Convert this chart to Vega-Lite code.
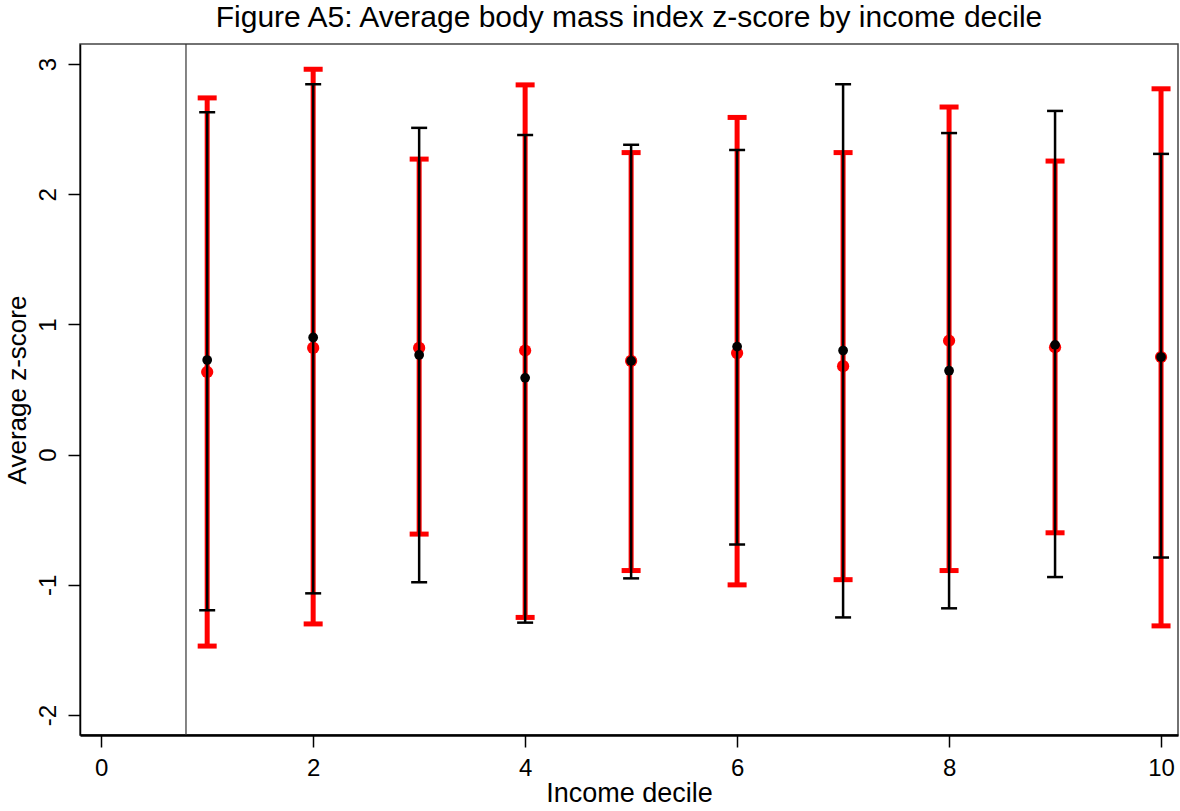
{
  "$schema": "https://vega.github.io/schema/vega-lite/v6.json",
  "width": 1098,
  "height": 691,
  "autosize": {"type": "none"},
  "padding": {"left": 80, "top": 44, "right": 2, "bottom": 76},
  "background": "white",
  "config": {
    "view": {"stroke": "#444", "strokeWidth": 1.5},
    "font": "Liberation Sans"
  },
  "title": {
    "text": "Figure A5: Average body mass index z-score by income decile",
    "font": "Liberation Sans",
    "fontSize": 30,
    "fontWeight": "normal",
    "color": "#000",
    "anchor": "middle",
    "offset": 10
  },
  "datasets": {
    "ci": [
      {"decile": 1, "group": "red", "mean": 0.635, "lo": -1.47, "hi": 2.74},
      {"decile": 1, "group": "black", "mean": 0.727, "lo": -1.195, "hi": 2.63},
      {"decile": 2, "group": "red", "mean": 0.82, "lo": -1.3, "hi": 2.96},
      {"decile": 2, "group": "black", "mean": 0.9, "lo": -1.065, "hi": 2.845},
      {"decile": 3, "group": "red", "mean": 0.82, "lo": -0.61, "hi": 2.27},
      {"decile": 3, "group": "black", "mean": 0.766, "lo": -0.98, "hi": 2.51},
      {"decile": 4, "group": "red", "mean": 0.8, "lo": -1.25, "hi": 2.84},
      {"decile": 4, "group": "black", "mean": 0.59, "lo": -1.29, "hi": 2.455},
      {"decile": 5, "group": "red", "mean": 0.72, "lo": -0.89, "hi": 2.32},
      {"decile": 5, "group": "black", "mean": 0.72, "lo": -0.95, "hi": 2.38},
      {"decile": 6, "group": "red", "mean": 0.78, "lo": -1.0, "hi": 2.59},
      {"decile": 6, "group": "black", "mean": 0.83, "lo": -0.69, "hi": 2.34},
      {"decile": 7, "group": "red", "mean": 0.68, "lo": -0.96, "hi": 2.32},
      {"decile": 7, "group": "black", "mean": 0.8, "lo": -1.25, "hi": 2.845},
      {"decile": 8, "group": "red", "mean": 0.875, "lo": -0.89, "hi": 2.67},
      {"decile": 8, "group": "black", "mean": 0.645, "lo": -1.18, "hi": 2.47},
      {"decile": 9, "group": "red", "mean": 0.825, "lo": -0.6, "hi": 2.255},
      {"decile": 9, "group": "black", "mean": 0.843, "lo": -0.94, "hi": 2.64},
      {"decile": 10, "group": "red", "mean": 0.75, "lo": -1.315, "hi": 2.81},
      {"decile": 10, "group": "black", "mean": 0.75, "lo": -0.79, "hi": 2.31}
    ],
    "ref": [{"decile": 0.8}]
  },
  "encoding": {
    "x": {
      "field": "decile",
      "type": "quantitative",
      "scale": {"domain": [-0.2, 10.16], "nice": false, "zero": false},
      "axis": {
        "title": "Income decile",
        "values": [0, 2, 4, 6, 8, 10],
        "labelExpr": "toString(datum.value)",
        "grid": false,
        "tickSize": 12,
        "tickWidth": 1.5,
        "tickColor": "#000",
        "domainColor": "#000",
        "domainWidth": 2.5,
        "labelFontSize": 24,
        "labelColor": "#000",
        "labelPadding": 9,
        "labelFont": "Liberation Sans",
        "titleFont": "Liberation Sans",
        "titleFontSize": 27,
        "titleFontWeight": "normal",
        "titleColor": "#000",
        "titlePadding": 0
      }
    }
  },
  "layer": [
    {
      "data": {"name": "ref"},
      "mark": {"type": "rule", "color": "#333", "strokeWidth": 1.2},
      "encoding": {}
    },
    {
      "data": {"name": "ci"},
      "transform": [{"filter": "datum.group === 'red'"}],
      "mark": {"type": "rule", "color": "#ff0000", "strokeWidth": 5},
      "encoding": {
        "y": {
          "field": "lo",
          "type": "quantitative",
          "scale": {"domain": [-2.153, 3.154], "nice": false, "zero": false},
          "axis": {
            "title": "Average z-score",
            "values": [-2, -1, 0, 1, 2, 3],
            "labelExpr": "toString(datum.value)",
            "grid": false,
            "tickSize": 12,
            "tickWidth": 1.5,
            "tickColor": "#000",
            "domainColor": "#000",
            "domainWidth": 1.5,
            "labelAngle": -90,
            "labelAlign": "center",
            "labelBaseline": "alphabetic",
            "labelFontSize": 24,
            "labelColor": "#000",
            "labelPadding": 13,
            "labelFont": "Liberation Sans",
            "titleFont": "Liberation Sans",
            "titleFontSize": 26,
            "titleFontWeight": "normal",
            "titleColor": "#000",
            "titlePadding": 6
          }
        },
        "y2": {"field": "hi"}
      }
    },
    {
      "data": {"name": "ci"},
      "transform": [{"filter": "datum.group === 'red'"}],
      "mark": {"type": "tick", "orient": "horizontal", "color": "#ff0000", "size": 19, "thickness": 5, "opacity": 1},
      "encoding": {"y": {"field": "hi", "type": "quantitative"}}
    },
    {
      "data": {"name": "ci"},
      "transform": [{"filter": "datum.group === 'red'"}],
      "mark": {"type": "tick", "orient": "horizontal", "color": "#ff0000", "size": 19, "thickness": 5, "opacity": 1},
      "encoding": {"y": {"field": "lo", "type": "quantitative"}}
    },
    {
      "data": {"name": "ci"},
      "transform": [{"filter": "datum.group === 'red'"}],
      "mark": {"type": "point", "filled": true, "shape": "circle", "color": "#ff0000", "size": 150, "opacity": 1},
      "encoding": {"y": {"field": "mean", "type": "quantitative"}}
    },
    {
      "data": {"name": "ci"},
      "transform": [{"filter": "datum.group === 'black'"}],
      "mark": {"type": "rule", "color": "#000", "strokeWidth": 2.5},
      "encoding": {
        "y": {"field": "lo", "type": "quantitative"},
        "y2": {"field": "hi"}
      }
    },
    {
      "data": {"name": "ci"},
      "transform": [{"filter": "datum.group === 'black'"}],
      "mark": {"type": "tick", "orient": "horizontal", "color": "#000", "size": 16, "thickness": 2.5, "opacity": 1},
      "encoding": {"y": {"field": "hi", "type": "quantitative"}}
    },
    {
      "data": {"name": "ci"},
      "transform": [{"filter": "datum.group === 'black'"}],
      "mark": {"type": "tick", "orient": "horizontal", "color": "#000", "size": 16, "thickness": 2.5, "opacity": 1},
      "encoding": {"y": {"field": "lo", "type": "quantitative"}}
    },
    {
      "data": {"name": "ci"},
      "transform": [{"filter": "datum.group === 'black'"}],
      "mark": {"type": "point", "filled": true, "shape": "circle", "color": "#000", "size": 95, "opacity": 1},
      "encoding": {"y": {"field": "mean", "type": "quantitative"}}
    }
  ]
}
